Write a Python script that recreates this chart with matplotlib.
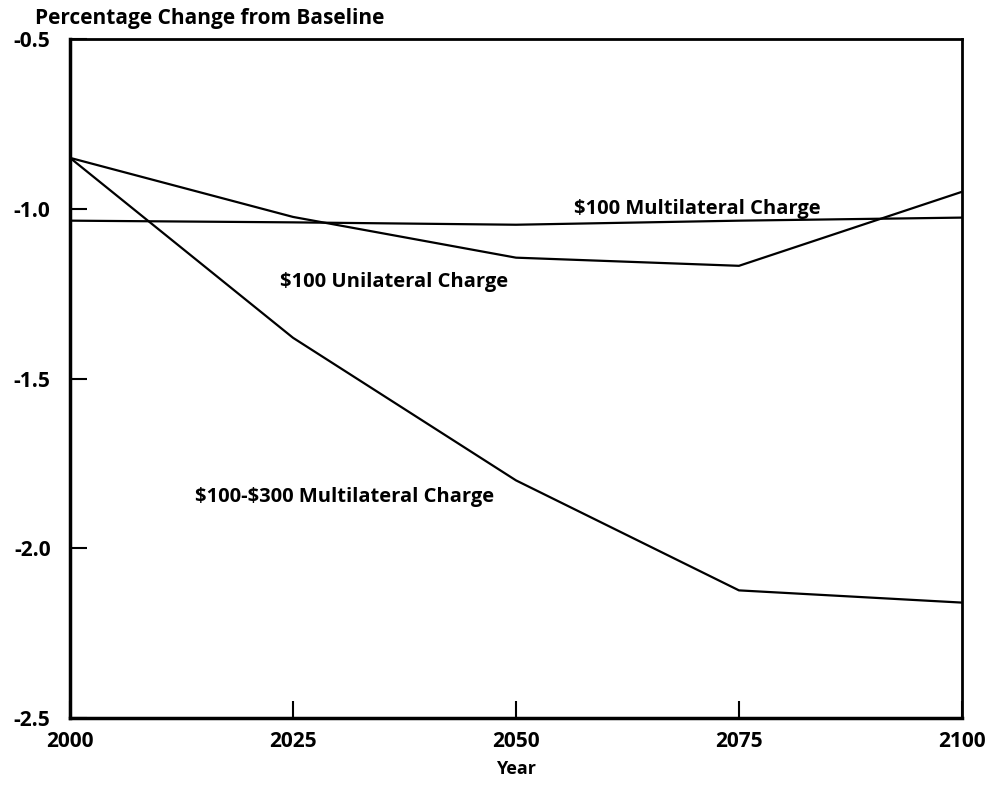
import matplotlib
matplotlib.use('Agg')
import matplotlib.pyplot as plt

years = [2000, 2025, 2050, 2075, 2100]
multi_100 = [-1.035, -1.04, -1.047, -1.035, -1.026]
uni_100 = [-0.85, -1.024, -1.144, -1.168, -0.95]
multi_100_300 = [-0.85, -1.38, -1.80, -2.124, -2.16]

yticks = [-0.5, -1.0, -1.5, -2.0, -2.5]
xticks = [2000, 2025, 2050, 2075, 2100]

plt.rcParams['font.family'] = ['Open Sans', 'DejaVu Sans']

fig = plt.figure(figsize=(9.85, 7.9), dpi=100)
ax = fig.add_axes([0.0711, 0.0911, 0.9055, 0.8595])

for series in (multi_100, uni_100, multi_100_300):
    ax.plot(years, series, color='black', lw=1.6)

ax.set_xlim(2000, 2100)
ax.set_ylim(-2.5, -0.5)
ax.set_xticks(xticks)
ax.set_yticks(yticks)
ax.set_yticklabels([f'{v:.1f}' for v in yticks], fontsize=15, fontweight='bold')
ax.set_xticklabels([str(v) for v in xticks], fontsize=15, fontweight='bold')
ax.tick_params(axis='both', direction='in', length=12, width=1.5, pad=9)
ax.tick_params(axis='y', pad=14)

for side in ('left', 'bottom'):
    ax.spines[side].set_linewidth(2.5)
for side in ('top', 'right'):
    ax.spines[side].set_linewidth(2.0)

ax.set_xlabel('Year', fontsize=13, fontweight='bold', labelpad=6)
fig.text(0.036, 0.977, 'Percentage Change from Baseline', fontsize=15,
         fontweight='bold', va='center', ha='left')

ax.text(2056.5, -1.0, r'\$100 Multilateral Charge', fontsize=14.5,
        fontweight='bold', va='center', ha='left')
ax.text(2023.5, -1.215, r'\$100 Unilateral Charge', fontsize=14.5,
        fontweight='bold', va='center', ha='left')
ax.text(2014, -1.85, r'\$100-\$300 Multilateral Charge', fontsize=14.5,
        fontweight='bold', va='center', ha='left')

fig.savefig('out.png', dpi=100)
